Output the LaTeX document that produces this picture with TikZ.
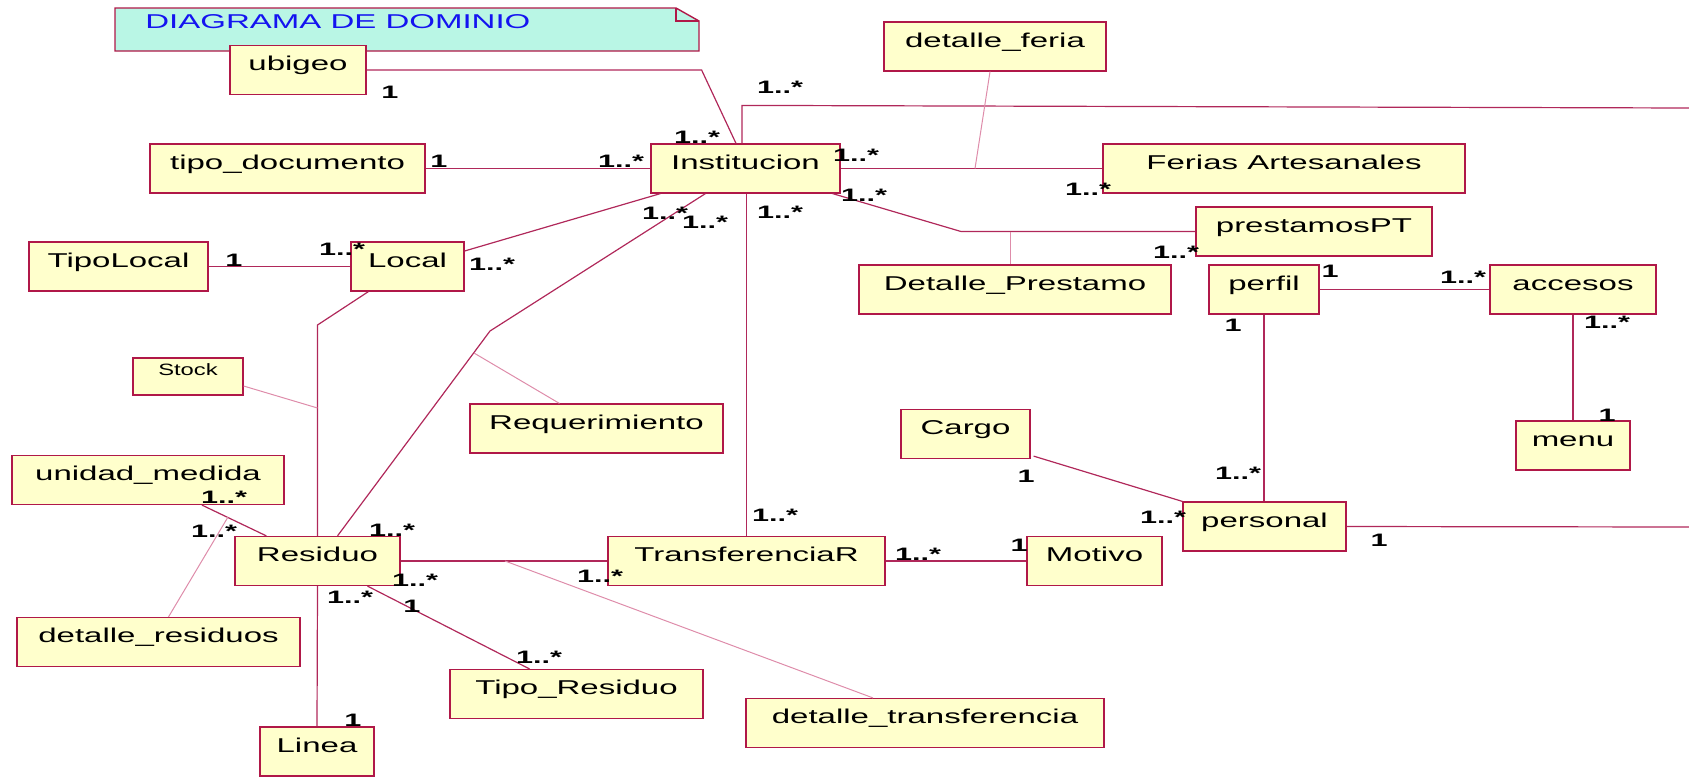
\documentclass[tikz,border=0pt]{standalone}
\usepackage{fontspec}
\setmainfont{Liberation Sans}
\newfontfamily\classfont{Liberation Sans}[FakeStretch=1.65]
\newfontfamily\multfont{Liberation Sans}[FakeStretch=1.7]
\newfontfamily\stockfont{Liberation Sans}[FakeStretch=1.45]
\usetikzlibrary{positioning,calc}
\definecolor{roserim}{RGB}{176,24,72}
\definecolor{roseline}{RGB}{176,40,90}
\definecolor{roselight}{RGB}{222,140,170}
\definecolor{classfill}{RGB}{255,255,204}
\definecolor{notefill}{RGB}{185,246,229}
\definecolor{noteblue}{RGB}{20,20,240}

\begin{document}
\begin{tikzpicture}[x=0.5pt, y=-0.5pt,
		% Node styles
		classbox/.style={draw=roserim, fill=classfill, line width=0.6pt, inner xsep=0pt, inner ysep=2pt,
				minimum height=24.5pt, text height=10.5pt, text depth=10pt, font=\classfont\fontsize{10}{12}\selectfont},
		smallbox/.style={draw=roserim, fill=classfill, line width=0.6pt, inner xsep=0pt, inner ysep=2pt,
				minimum height=18.5pt, text height=6.5pt, text depth=8pt, font=\stockfont\fontsize{8.2}{9}\selectfont},
		mult/.style={inner sep=0pt, font=\multfont\bfseries\fontsize{9}{10}\selectfont},
		notetitle/.style={inner sep=0pt, anchor=west, text=noteblue, font=\classfont\fontsize{10}{12}\selectfont},
		assoc/.style={draw=roseline, line width=0.6pt},
		assoclink/.style={draw=roselight, line width=0.5pt}
	]

	\useasboundingbox (0,0) rectangle (1689,777);

	% Note
	\draw[draw=roserim, fill=notefill, line width=0.7pt] (115,8) -- (676,8) -- (699,21) -- (699,51) -- (115,51) -- cycle;
	\draw[draw=roserim, line width=0.7pt] (676,8) -- (676,21) -- (699,21);
	\node[notetitle] (note_title) at (145,22) {DIAGRAMA DE DOMINIO};

	% Classes
	\node[classbox, minimum width=68pt] (ubigeo) at (298,70) {ubigeo};
	\node[classbox, minimum width=137.5pt] (tipo_doc) at (287.5,168.5) {tipo\_documento};
	\node[classbox, minimum width=94.5pt] (inst) at (745.5,168.5) {Institucion};
	\node[classbox, minimum width=111pt] (det_feria) at (995,46.5) {detalle\_feria};
	\node[classbox, minimum width=181pt] (ferias) at (1284,168.5) {Ferias Artesanales};
	\node[classbox, minimum width=118pt] (prestamos) at (1314,231.5) {prestamosPT};
	\node[classbox, minimum width=156pt] (det_prestamo) at (1015,289.5) {Detalle\_Prestamo};
	\node[classbox, minimum width=55pt] (perfil) at (1264,289.5) {perfil};
	\node[classbox, minimum width=83pt] (accesos) at (1573,289.5) {accesos};
	\node[classbox, minimum width=57pt] (menu) at (1573,445.5) {menu};
	\node[classbox, minimum width=81.5pt] (personal) at (1264.5,526.5) {personal};
	\node[classbox, minimum width=64.5pt] (cargo) at (965.5,434) {Cargo};
	\node[classbox, minimum width=67.5pt] (motivo) at (1094.5,561) {Motivo};
	\node[classbox, minimum width=138.5pt] (transf) at (746.5,561) {TransferenciaR};
	\node[classbox, minimum width=179pt] (det_transf) at (925,723) {detalle\_transferencia};
	\node[classbox, minimum width=126.5pt] (tipo_residuo) at (576.5,694) {Tipo\_Residuo};
	\node[classbox, minimum width=57pt] (linea) at (317,751.5) {Linea};
	\node[classbox, minimum width=141.5pt] (det_residuos) at (158.5,642) {detalle\_residuos};
	\node[classbox, minimum width=82.5pt] (residuo) at (317.5,561) {Residuo};
	\node[classbox, minimum width=136pt] (unidad) at (148,480) {unidad\_medida};
	\node[smallbox, minimum width=55pt] (stock) at (188,376.5) {Stock};
	\node[classbox, minimum width=126.5pt] (req) at (596.5,428.5) {Requerimiento};
	\node[classbox, minimum width=89.5pt] (tipo_local) at (118.5,266.5) {TipoLocal};
	\node[classbox, minimum width=56.5pt] (local) at (407.5,266.5) {Local};

	% Free ends and bends
	\coordinate (right_top) at (1689,108);
	\coordinate (right_low) at (1689,527);
	\coordinate (feria_mid) at (975,168.5);
	\coordinate (prest_bend) at (961,231.5);
	\coordinate (prest_mid) at (1010,231.5);
	\coordinate (req_bend) at (490,331);
	\coordinate (req_mid) at (474,353);
	\coordinate (local_bend) at (317.5,325);
	\coordinate (stock_mid) at (317.5,408);
	\coordinate (res_mid) at (228,517);
	\coordinate (transf_mid) at (505,561);

	% Associations
	\draw[assoc] (ubigeo.east) -- ++(335,0) -- ($(inst.north)+(-9.5,0)$);
	\draw[assoc] ($(inst.north)+(-3.5,0)$) -- ++(0,-38) -- (right_top);
	\draw[assoc] (tipo_doc.east) -- (inst.west);
	\draw[assoc] (inst.east) -- (ferias.west);
	\draw[assoc] ($(inst.south east)+(-8,0)$) -- (prest_bend) -- (prestamos.west);
	\draw[assoc] (transf.north |- inst.south) -- (transf.north);
	\draw[assoc] ($(inst.south west)+(10,0)$) -- ($(local.east)+(0,-15.5)$);
	\draw[assoc] ($(inst.south west)+(55,0)$) -- (req_bend) -- ($(residuo.north)+(20,0)$);
	\draw[assoc] (tipo_local.east) -- (local.west);
	\draw[assoc] ($(local.south west)+(18,0)$) -- (local_bend) -- (residuo.north);
	\draw[assoc] ($(unidad.south)+(54,0)$) -- ($(residuo.north west)+(32,0)$);
	\draw[assoc] (residuo.east) -- (transf.west);
	\draw[assoc] ($(residuo.south)+(50,0)$) -- ($(tipo_residuo.north)+(-47,0)$);
	\draw[assoc] (residuo.south) -- (linea.north);
	\draw[assoc] (transf.east) -- (motivo.west);
	\draw[assoc] ($(cargo.south east)+(3,-3)$) -- (personal.north west);
	\draw[assoc] (perfil.south) -- (perfil.south |- personal.north);
	\draw[assoc] (perfil.east) -- (accesos.west);
	\draw[assoc] (accesos.south) -- (menu.north);
	\draw[assoc] (personal.east) -- (right_low);

	% Association classes
	\draw[assoclink] (feria_mid) -- ($(det_feria.south)+(-5,0)$);
	\draw[assoclink] (prest_mid) -- (prest_mid |- det_prestamo.north);
	\draw[assoclink] (req_mid) -- ($(req.north west)+(90,0)$);
	\draw[assoclink] ($(stock.east)+(0,9.5)$) -- (stock_mid);
	\draw[assoclink] (res_mid) -- ($(det_residuos.north)+(10,0)$);
	\draw[assoclink] (transf_mid) -- ($(det_transf.north)+(-52,0)$);

	% Multiplicities
	\node[mult] (mult1) at (390,92) {1};
	\node[mult] (mult2) at (697,137) {1..*};
	\node[mult] (mult3) at (780,87) {1..*};
	\node[mult] (mult4) at (439,161) {1};
	\node[mult] (mult5) at (621,161) {1..*};
	\node[mult] (mult6) at (856,155) {1..*};
	\node[mult] (mult7) at (1088,189) {1..*};
	\node[mult] (mult8) at (864,195) {1..*};
	\node[mult] (mult9) at (1176,252) {1..*};
	\node[mult] (mult10) at (780,212) {1..*};
	\node[mult] (mult11) at (775,515) {1..*};
	\node[mult] (mult12) at (665,213) {1..*};
	\node[mult] (mult13) at (705,222) {1..*};
	\node[mult] (mult14) at (492,264) {1..*};
	\node[mult] (mult15) at (234,260) {1};
	\node[mult] (mult16) at (342,249) {1..*};
	\node[mult] (mult17) at (224,497) {1..*};
	\node[mult] (mult18) at (214,531) {1..*};
	\node[mult] (mult19) at (392,530) {1..*};
	\node[mult] (mult20) at (415,580) {1..*};
	\node[mult] (mult21) at (600,576) {1..*};
	\node[mult] (mult22) at (350,597) {1..*};
	\node[mult] (mult23) at (412,606) {1};
	\node[mult] (mult24) at (539,657) {1..*};
	\node[mult] (mult25) at (353,720) {1};
	\node[mult] (mult26) at (918,554) {1..*};
	\node[mult] (mult27) at (1019,545) {1};
	\node[mult] (mult28) at (1026,476) {1};
	\node[mult] (mult29) at (1163,517) {1..*};
	\node[mult] (mult30) at (1233,325) {1};
	\node[mult] (mult31) at (1238,473) {1..*};
	\node[mult] (mult32) at (1330,271) {1};
	\node[mult] (mult33) at (1463,277) {1..*};
	\node[mult] (mult34) at (1607,322) {1..*};
	\node[mult] (mult35) at (1607,415) {1};
	\node[mult] (mult36) at (1379,540) {1};

\end{tikzpicture}
\end{document}
